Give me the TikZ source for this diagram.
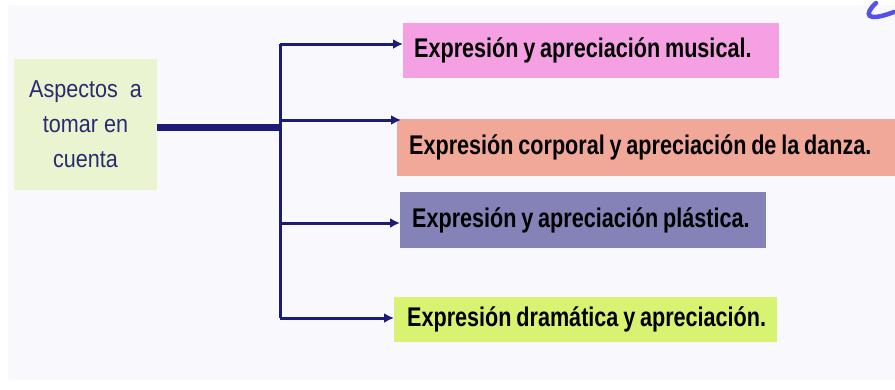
\documentclass[tikz,border=0pt]{standalone}
\usepackage{fontspec}
\setmainfont{Liberation Sans}
\newfontfamily\ramafont[FakeStretch=0.8]{Liberation Sans}
\newfontfamily\raizfont[FakeStretch=0.88]{Liberation Sans}
\usetikzlibrary{arrows.meta}

\definecolor{fondo}{HTML}{F8F8FD}
\definecolor{marino}{HTML}{1C1C78}
\definecolor{textoraiz}{HTML}{2A2A72}
\definecolor{verdeclaro}{HTML}{EAF4D0}
\definecolor{rosa}{HTML}{F4A0E2}
\definecolor{salmon}{HTML}{F2A898}
\definecolor{lila}{HTML}{8482B6}
\definecolor{lima}{HTML}{D8F272}
\definecolor{trazo}{HTML}{5252E6}

\begin{document}
\begin{tikzpicture}[x=1pt,y=-1pt,
  aspecto/.style={anchor=west,inner xsep=11pt,inner ysep=0pt,align=left,
    font=\ramafont\bfseries\fontsize{27}{30}\selectfont,
    execute at begin node={\spaceskip=4.8pt\relax}},
  rama/.style={draw=marino,line width=3pt,-{Latex[length=10pt,width=10pt]}}]
\useasboundingbox (0,0) rectangle (895,389);
\fill[white] (0,0) rectangle (895,389);
\fill[fondo] (8,5) rectangle (895,380);
\draw[trazo,line width=4.5pt,line cap=round] (876,3) .. controls (864,14) and (865,23) .. (894,12);

\node[fill=verdeclaro,minimum width=143pt,minimum height=131pt,inner sep=0pt,
  text=textoraiz,align=center,font=\raizfont\fontsize{24.5}{35}\selectfont] (raiz) at (85.5,124.5)
  {\rule{0pt}{6pt}Aspectos\ \ a\\tomar en\\cuenta};

\node[aspecto,fill=rosa,minimum height=55pt,text width=354pt] (musical) at (403,50.5)
  {\mbox{Expresión y apreciación musical.}};
\node[aspecto,fill=salmon,minimum height=57pt,text width=474pt,inner xsep=12pt] (danza) at (397,147)
  {\mbox{Expresión corporal y apreciación de la danza.}};
\node[aspecto,fill=lila,minimum height=56pt,text width=342pt,inner xsep=12pt] (plastica) at (400,220)
  {\mbox{Expresión y apreciación plástica.}};
\node[aspecto,fill=lima,minimum height=45pt,text width=357pt,inner xsep=13pt] (dramatica) at (394,319.5)
  {\mbox{Expresión dramática y apreciación.}};

\coordinate (nudo) at (280,127);
\coordinate (r1) at (280,44);
\coordinate (r2) at (280,120);
\coordinate (r3) at (280,223);
\coordinate (r4) at (280,318);
\draw[marino,line width=7pt] (raiz.east |- nudo) -- (nudo);
\draw[marino,line width=3pt] (r1) -- (r4);
\draw[rama] (r1) -- (musical.west |- r1);
\draw[rama] (r2) -- ([xshift=4pt]danza.west |- r2);
\draw[rama] (r3) -- (plastica.west |- r3);
\draw[rama] (r4) -- (dramatica.west |- r4);
\end{tikzpicture}
\end{document}
